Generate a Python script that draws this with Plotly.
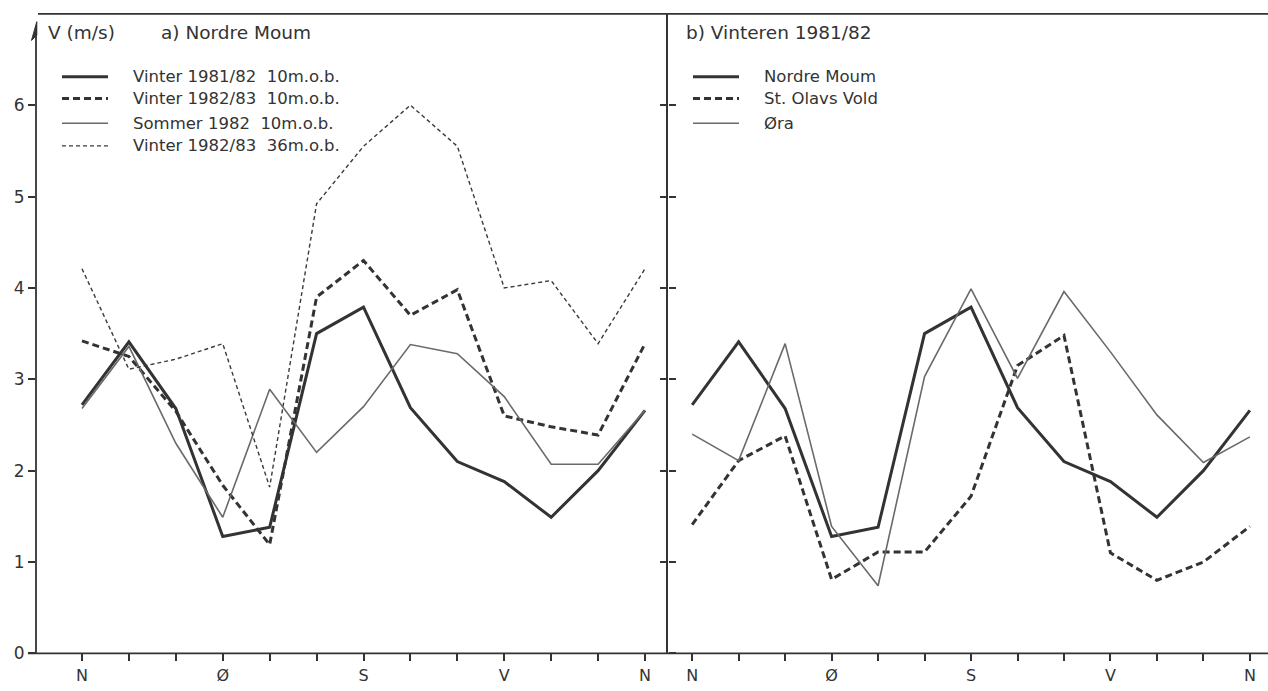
import plotly.graph_objects as go

# Wind direction sectors (30 degrees each, N repeated at the end)
sectors = list(range(13))
tick_labels = ["N", "", "", "Ø", "", "", "S", "", "", "V", "", "", "N"]

# a) Nordre Moum, mean wind speed V (m/s) per direction sector
vinter_8182_10m = [2.72, 3.41, 2.68, 1.28, 1.38, 3.50, 3.79, 2.69, 2.10, 1.88, 1.49, 2.00, 2.66]
vinter_8283_10m = [3.42, 3.25, 2.65, 1.84, 1.19, 3.90, 4.30, 3.70, 3.98, 2.60, 2.48, 2.39, 3.39]
sommer_82_10m = [2.68, 3.36, 2.30, 1.49, 2.89, 2.20, 2.70, 3.38, 3.28, 2.81, 2.07, 2.07, 2.66]
vinter_8283_36m = [4.21, 3.11, 3.22, 3.39, 1.82, 4.92, 5.55, 6.00, 5.55, 4.00, 4.08, 3.39, 4.21]

# b) Winter 1981/82 at three stations
nordre_moum = vinter_8182_10m
st_olavs_vold = [1.41, 2.11, 2.38, 0.81, 1.11, 1.11, 1.72, 3.15, 3.48, 1.10, 0.80, 1.00, 1.39]
oera = [2.40, 2.11, 3.39, 1.39, 0.74, 3.03, 3.99, 3.01, 3.96, 3.30, 2.61, 2.09, 2.37]

left_names = ["Vinter 1981/82\u00a0\u00a010m.o.b.", "Vinter 1982/83\u00a0\u00a010m.o.b.",
              "Sommer 1982\u00a0\u00a010m.o.b.", "Vinter 1982/83\u00a0\u00a036m.o.b."]
right_names = ["Nordre Moum", "St. Olavs Vold", "Øra"]

W, H = 1268, 691
INK = "#333333"
FONT = "DejaVu Sans"

thick_solid = dict(color="#333333", width=3.0)
thick_dash = dict(color="#333333", width=3.0, dash="7px,4px")
thin_solid = dict(color="#6a6a6a", width=1.6)
thin_dash = dict(color="#3a3a3a", width=1.4, dash="4px,3px")

left_series = [
    (vinter_8182_10m, thick_solid),
    (vinter_8283_10m, thick_dash),
    (sommer_82_10m, thin_solid),
    (vinter_8283_36m, thin_dash),
]
right_series = [
    (nordre_moum, thick_solid),
    (st_olavs_vold, thick_dash),
    (oera, thin_solid),
]


def px(x):
    return x / W


def py(y):
    return 1 - y / H


fig = go.Figure()

for (vals, style), name in zip(left_series, left_names):
    fig.add_trace(go.Scatter(x=sectors, y=vals, mode="lines", line=style,
                             name=name, xaxis="x", yaxis="y", showlegend=False))
for (vals, style), name in zip(right_series, right_names):
    fig.add_trace(go.Scatter(x=sectors, y=vals, mode="lines", line=style,
                             name=name, xaxis="x2", yaxis="y2", showlegend=False))

y_top, y_zero = 14, 663
x_left, x_div = 36, 668
ydom = [py(y_zero), py(y_top)]

xcommon = dict(tickmode="array", tickvals=sectors, ticktext=tick_labels,
               ticks="outside", ticklen=7, tickwidth=1.5, tickcolor=INK,
               showline=False, showgrid=False, zeroline=False,
               tickfont=dict(family=FONT, size=16, color=INK))

shapes = []
annotations = []

# Hand-drawn legends
legend_rows = [78, 100, 125, 148]
for (vals, style), name, yy in zip(left_series, left_names, legend_rows):
    shapes.append(dict(type="line", xref="paper", yref="paper",
                       x0=px(62), x1=px(108), y0=py(yy), y1=py(yy), line=style))
    annotations.append(dict(x=px(131), y=py(yy), xref="paper", yref="paper",
                            text=name, showarrow=False, xanchor="left", yanchor="middle",
                            font=dict(family=FONT, size=16.5, color=INK)))
for (vals, style), name, yy in zip(right_series, right_names, legend_rows[:3]):
    shapes.append(dict(type="line", xref="paper", yref="paper",
                       x0=px(693), x1=px(739), y0=py(yy), y1=py(yy), line=style))
    annotations.append(dict(x=px(762), y=py(yy), xref="paper", yref="paper",
                            text=name, showarrow=False, xanchor="left", yanchor="middle",
                            font=dict(family=FONT, size=16.5, color=INK)))

# Frame: baseline, top rule and the value axis with its arrow tip
shapes.append(dict(type="line", xref="paper", yref="paper", x0=px(28), x1=1,
                   y0=py(y_zero), y1=py(y_zero), line=dict(color=INK, width=1.8)))
shapes.append(dict(type="line", xref="paper", yref="paper", x0=px(38), x1=1,
                   y0=py(y_top), y1=py(y_top), line=dict(color=INK, width=1.8)))
shapes.append(dict(type="line", xref="paper", yref="paper", x0=px(x_left), x1=px(x_left),
                   y0=py(y_zero), y1=py(26), line=dict(color=INK, width=1.8)))
tip = [(x_left + 0.8, 22), (x_left - 4.5, 41), (x_left + 0.8, 36)]
tip_path = "M " + " L ".join(f"{px(a):.5f},{py(b):.5f}" for a, b in tip) + " Z"
shapes.append(dict(type="path", xref="paper", yref="paper", path=tip_path,
                   fillcolor=INK, line=dict(color=INK, width=1)))

# Titles
title_font = dict(family=FONT, size=18.5, color=INK)
annotations.append(dict(x=px(46), y=py(33), xref="paper", yref="paper",
                        text="V (m/s)", showarrow=False, xanchor="left", yanchor="middle",
                        font=title_font))
annotations.append(dict(x=px(159), y=py(33), xref="paper", yref="paper",
                        text="a) Nordre Moum", showarrow=False, xanchor="left", yanchor="middle",
                        font=title_font))
annotations.append(dict(x=px(684), y=py(33), xref="paper", yref="paper",
                        text="b) Vinteren 1981/82", showarrow=False, xanchor="left", yanchor="middle",
                        font=title_font))

fig.update_layout(
    width=W, height=H,
    margin=dict(l=0, r=0, t=0, b=0),
    paper_bgcolor="white", plot_bgcolor="white",
    showlegend=False,
    xaxis=dict(domain=[px(x_left), px(x_div)], range=[-0.98, 12.49], anchor="y", **xcommon),
    xaxis2=dict(domain=[px(x_div), 1], range=[-0.52, 12.39], anchor="y2", **xcommon),
    yaxis=dict(domain=ydom, range=[0, 7], anchor="x",
               tickmode="array", tickvals=[0, 1, 2, 3, 4, 5, 6],
               ticks="outside", ticklen=7, tickwidth=1.5, tickcolor=INK,
               mirror="ticks", showline=False, showgrid=False, zeroline=False,
               tickfont=dict(family=FONT, size=17, color=INK)),
    yaxis2=dict(domain=ydom, range=[0, 7], anchor="x2",
                tickmode="array", tickvals=[1, 2, 3, 4, 5, 6],
                ticks="outside", ticklen=6, tickwidth=1.5, tickcolor=INK,
                showticklabels=False, showline=True, linecolor=INK, linewidth=1.8,
                showgrid=False, zeroline=False),
    shapes=shapes,
    annotations=annotations,
)

fig.write_html("out.html")
